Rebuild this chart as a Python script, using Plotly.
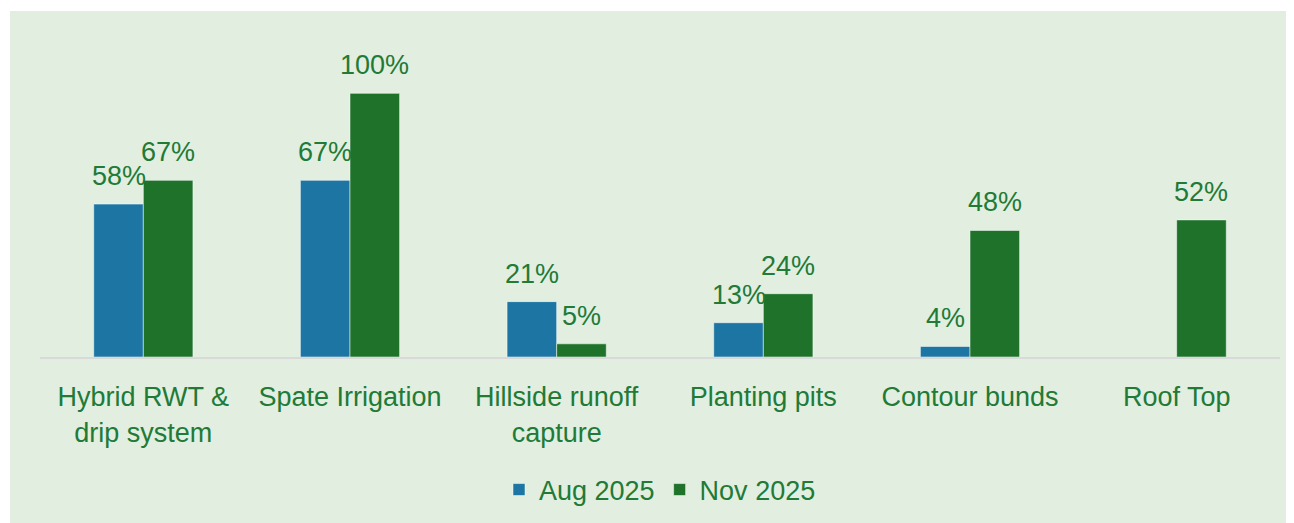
import plotly.graph_objects as go

categories = ["Hybrid RWT &<br>drip system", "Spate Irrigation", "Hillside runoff<br>capture",
              "Planting pits", "Contour bunds", "Roof Top"]
aug_2025 = [0.58, 0.67, 0.21, 0.13, 0.04, None]
nov_2025 = [0.67, 1.00, 0.05, 0.24, 0.48, 0.52]

TXT = "#217A36"
BLUE = "#1C75A2"
GREEN = "#1E722A"
BG = "#E2EEE0"

# page body has an 8px margin, so the layout is shifted up/left by that
W, H = 1294, 523
ML, MR, MT, MB = 32, 22, 59, 174
BARGAP = 0.52
FONT = "Liberation Sans"
FS = 27

fig = go.Figure()
fig.add_trace(go.Bar(name="Aug 2025", x=categories, y=aug_2025, marker_color=BLUE,
                     marker_line=dict(color="rgba(255,255,255,0.5)", width=1)))
fig.add_trace(go.Bar(name="Nov 2025", x=categories, y=nov_2025, marker_color=GREEN,
                     marker_line=dict(color="rgba(255,255,255,0.5)", width=1)))

# value labels, shifted onto each bar of the group
plot_w = W - ML - MR
bar_w = plot_w / len(categories) * (1 - BARGAP) / 2
for vals, sh in [(aug_2025, -bar_w / 2), (nov_2025, bar_w / 2)]:
    for c, v in zip(categories, vals):
        if v is None:
            continue
        fig.add_annotation(x=c, y=v, text=f"{v:.0%}", showarrow=False, xshift=sh,
                           yanchor="bottom", yshift=11,
                           font=dict(size=FS, color=TXT, family=FONT))

# white strips above and to the left of the chart area
plot_h = H - MT - MB
fig.add_shape(type="rect", xref="paper", yref="paper", layer="below",
              x0=-ML / plot_w - 0.05, x1=(2 - ML) / plot_w,
              y0=-MB / plot_h - 0.1, y1=(H - MB) / plot_h + 0.1,
              fillcolor="white", line_width=0)
fig.add_shape(type="rect", xref="paper", yref="paper", layer="below",
              x0=-ML / plot_w - 0.05, x1=1.1,
              y0=(H - MB - 3) / plot_h, y1=(H - MB) / plot_h + 0.1,
              fillcolor="white", line_width=0)

fig.update_layout(
    width=W, height=H,
    margin=dict(l=ML, r=MR, t=MT, b=MB),
    paper_bgcolor=BG, plot_bgcolor="rgba(0,0,0,0)",
    barmode="group", bargap=BARGAP, bargroupgap=0,
    font=dict(family=FONT, size=FS, color=TXT),
    showlegend=True,
    legend=dict(orientation="h", x=0.5, xanchor="center", y=-(482 - (H - MB)) / plot_h,
                yanchor="middle", font=dict(size=FS, color=TXT), bgcolor="rgba(0,0,0,0)"),
)
fig.update_xaxes(showline=True, linecolor="#D9D9D9", linewidth=2, showgrid=False,
                 ticks="outside", ticklen=15, tickcolor="rgba(0,0,0,0)",
                 tickfont=dict(size=FS, color=TXT))
fig.update_yaxes(range=[0, 1.1], visible=False, showgrid=False, zeroline=False)

fig.write_html("out.html")
